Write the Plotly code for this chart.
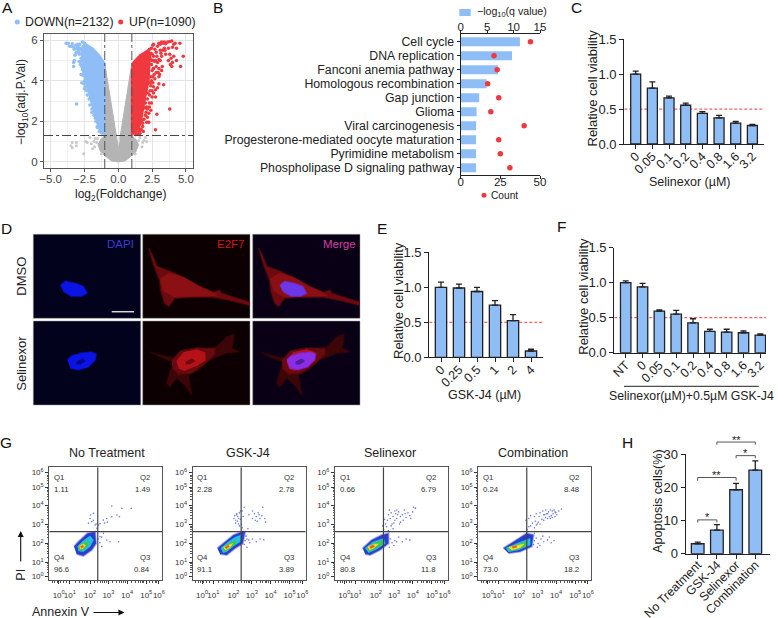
import plotly.graph_objects as go

W, H = 778, 618
FONT = "Liberation Sans"
BAR_BLUE = "#8fbdf6"
RED = "#f0393f"
INK = "#222222"

# ---------- Panel A : volcano ----------
GREY_REGION_X = [0, -0.1, -0.22, -0.38, -0.55, -0.75, -0.98, -1, -1.3, -1.5, -1.3, -0.9, -0.5, 0, 0.5, 0.9, 1.3, 1.5, 1.3, 1, 0.98, 0.75, 0.55, 0.38, 0.22, 0.1]
GREY_REGION_Y = [0.7, 1.1, 1.6, 2.2, 3.0, 3.8, 4.75, 1.3, 1.1, 0.85, 0.5, 0.25, 0.05, 0, 0.05, 0.25, 0.5, 0.85, 1.1, 1.3, 4.75, 3.8, 3.0, 2.2, 1.6, 1.1]
GREY_X = [-3.4, -3.5, -3.1, -3.1, -3.4, -2.55, -2.4, -2.3, -2.1, -2, -1.9, -1.8, -1.7, -1.6, -1.55, -1.75, 1.6, 1.8, 1.75, 1.9, 2.0, 2.1, 1.5, -1.25, 1.25]
GREY_Y = [0.7, 0.8, 0.95, 0.8, 0.95, 0.4, 1.0, 0.95, 1.2, 0.9, 0.65, 1.0, 1.15, 0.95, 1.15, 0.75, 1.2, 0.95, 0.75, 1.05, 1.2, 1.0, 1.05, 0.4, 0.4]
DOWN_REGION_X = [-1, -1, -1.4, -1.9, -2.4, -2.65, -2.7, -2.6, -2.6, -2.4, -2.2, -2.0, -1.8, -1.6, -1.4, -1.15]
DOWN_REGION_Y = [1.3, 4.85, 5.25, 5.6, 5.8, 5.7, 5.3, 4.9, 4.4, 3.9, 3.4, 3.0, 2.5, 2.0, 1.6, 1.35]
DOWN_X = [-3.85, -3.7, -3.6, -3.45, -3.4, -3.3, -3.25, -3.15, -3.05, -3.0, -2.95, -3.1, -3.2, -3.25, -3.3, -3.3, -2.85, -2.8, -2.75, -2.9, -3.1, -2.9, -2.7, -2.55, -2.8, -2.5, -2.4, -2.35, -2.2, -2.25, -2.05, -2.0, -1.9, -1.85, -1.7, -1.6, -1.6, -1.5, -1.85, -3.08, -1.75, -1.45, -1.4, -1.3, -1.25, -1.55, -1.65, -2.75, -2.7, -2.5, -1.2, -1.35, -2.7, -2.6, -2.75, -2.65, -2.6, -2.55, -2.45, -2.35, -2.3, -2.15, -2.1, -1.95, -1.8, -1.7, -1.55, -1.95, -2.85, -2.95, -2.65, -2.5]
DOWN_Y = [5.85, 5.85, 5.7, 5.7, 5.82, 5.65, 5.55, 5.75, 5.6, 5.8, 5.5, 5.4, 5.25, 5.0, 4.9, 4.7, 5.3, 5.6, 5.1, 5.4, 5.35, 4.95, 4.7, 4.6, 4.8, 4.0, 4.3, 4.15, 3.6, 3.95, 3.2, 3.4, 2.9, 3.1, 2.6, 2.4, 2.7, 2.2, 2.95, 2.85, 2.3, 1.9, 1.5, 1.6, 1.45, 1.75, 2.0, 4.3, 3.9, 3.6, 1.5, 1.8, 5.5, 5.2, 4.95, 4.55, 4.25, 3.85, 3.7, 3.5, 3.3, 3.1, 2.8, 2.6, 2.3, 2.15, 1.7, 2.45, 5.8, 5.65, 5.9, 5.85]
UP_REGION_X = [1, 1, 1.1, 1.6, 2.2, 2.35, 2.3, 2.25, 2.0, 1.85, 1.65, 1.3]
UP_REGION_Y = [1.3, 4.5, 4.9, 5.25, 5.5, 5.3, 4.7, 4.0, 3.2, 2.55, 1.9, 1.4]
UP_X = [2.6, 2.55, 2.45, 2.3, 2.4, 2.7, 2.8, 2.9, 3.0, 3.1, 3.2, 3.3, 3.4, 3.5, 3.65, 3.8, 3.95, 4.1, 4.2, 4.55, 4.3, 4.0, 3.7, 3.4, 3.1, 2.85, 2.6, 2.5, 2.7, 3.0, 3.2, 3.5, 3.8, 3.9, 3.7, 3.85, 4.0, 4.1, 4.3, 4.8, 4.6, 3.95, 3.25, 3.0, 2.8, 2.5, 2.4, 2.65, 2.8, 2.55, 2.4, 3.0, 3.35, 3.0, 2.9, 2.75, 2.5, 2.3, 2.15, 2.3, 2.1, 2.0, 2.5, 3.8, 2.4, 2.25, 2.85, 2.15, 2.0, 1.9, 1.75, 1.8, 1.85, 1.55, 2.75, 1.6, 1.3, 1.6, 1.9, 1.95, 2.35, 2.5, 2.6, 2.45, 2.6, 2.7, 2.55, 2.45, 2.35, 2.6, 2.75, 2.35, 2.2, 2.45, 2.6, 2.3, 2.15, 2.05, 1.95, 2.1, 2.25, 1.8, 1.7, 1.55, 1.45, 1.35, 1.25, 1.4, 1.65, 1.75, 2.9, 3.1, 3.2, 3.05, 2.95, 2.75, 2.6, 3.3, 3.15, 3.45]
UP_Y = [5.8, 5.75, 5.6, 5.55, 5.35, 5.55, 5.4, 5.7, 5.85, 5.8, 5.9, 5.85, 5.9, 5.82, 5.9, 5.93, 5.95, 5.8, 5.85, 5.85, 5.6, 5.65, 5.6, 5.6, 5.5, 5.2, 5.2, 5.0, 4.95, 5.05, 5.2, 5.3, 5.3, 5.1, 5.0, 4.8, 4.9, 5.2, 5.0, 5.2, 4.7, 4.7, 4.7, 4.6, 4.7, 4.5, 4.2, 4.3, 4.4, 3.9, 3.75, 4.2, 3.8, 3.85, 3.65, 3.55, 3.5, 3.3, 3.1, 2.9, 2.7, 2.9, 3.2, 2.6, 2.55, 2.4, 2.35, 2.2, 2.3, 2.1, 2.05, 1.75, 1.5, 1.65, 1.58, 1.4, 1.35, 2.3, 3.2, 3.5, 5.1, 5.3, 5.0, 4.8, 4.6, 4.1, 4.2, 4.0, 3.9, 3.7, 3.2, 3.5, 3.4, 2.9, 3.4, 2.7, 2.6, 2.45, 2.65, 1.95, 1.95, 1.9, 1.6, 1.5, 1.35, 1.55, 1.6, 1.8, 2.5, 2.7, 4.9, 5.0, 4.5, 4.3, 4.4, 5.0, 4.6, 5.5, 5.35, 5.5]
FC_CUT = 1
P_CUT = 1.3

# ---------- Panel B : enrichment ----------
PATHWAYS = ["Cell cycle", "DNA replication", "Fanconi anemia pathway", "Homologous recombination", "Gap junction", "Glioma", "Viral carcinogenesis", "Progesterone-mediated oocyte maturation", "Pyrimidine metabolism", "Phospholipase D signaling pathway"]
Q_VALUES = [11.2, 9.7, 7.05, 4.9, 3.5, 3.0, 2.9, 2.9, 2.9, 2.9]
COUNTS = [44, 21, 23, 17, 24, 19, 40, 24, 25, 31]

# ---------- Panels C, E, F : viability ----------
SEL_DOSES = ["0", "0.05", "0.1", "0.2", "0.4", "0.8", "1.6", "3.2"]
SEL_VIAB = [1.0, 0.8, 0.66, 0.555, 0.44, 0.375, 0.30, 0.265]
SEL_ERR = [0.045, 0.09, 0.025, 0.03, 0.025, 0.035, 0.025, 0.015]
GSK_DOSES = ["0", "0.25", "0.5", "1", "2", "4"]
GSK_VIAB = [1.0, 0.99, 0.94, 0.745, 0.525, 0.09]
GSK_ERR = [0.075, 0.055, 0.06, 0.065, 0.085, 0.025]
COMBO_DOSES = ["NT", "0", "0.05", "0.1", "0.2", "0.4", "0.8", "1.6", "3.2"]
COMBO_VIAB = [1.0, 0.94, 0.595, 0.55, 0.425, 0.305, 0.295, 0.285, 0.25]
COMBO_ERR = [0.025, 0.05, 0.015, 0.055, 0.06, 0.03, 0.04, 0.025, 0.02]
HALF = 0.5

# ---------- Panel H : apoptosis ----------
APO_GROUPS = ["No Treatment", "GSK-J4", "Selinexor", "Combination"]
APO_VALUES = [3.0, 7.1, 19.3, 25.2]
APO_ERR = [0.5, 1.7, 1.9, 2.8]
BRACKETS = [(0, 1, 10.2, 9.4, "*"), (0, 2, 23.0, 22.0, "**"), (2, 3, 29.6, 28.8, "*"), (1, 3, 33.7, 32.9, "**")]

# ---------- Panel D : micrographs (local image pixels) ----------
DMSO_CELL_X = [6, 11, 17, 18, 22, 26, 32, 47, 71, 87, 107, 107, 91, 79, 77, 71, 57, 41, 27, 14, 9]
DMSO_CELL_Y = [14, 31, 46, 56, 69, 72, 64, 63, 63, 66, 71, 68, 63, 59, 56, 58, 52, 43, 37, 32, 19]
DMSO_CORE_X = [18, 21, 31, 57, 74, 57, 41, 26]
DMSO_CORE_Y = [44, 56, 62, 61, 61, 53, 44, 39]
DMSO_NUC_X = [27, 32, 42, 50, 54, 48, 38, 30]
DMSO_NUC_Y = [51, 47, 49, 52, 59, 62, 62, 57]
SEL_CELL_X = [7, 17, 31, 41, 57, 74, 84, 91, 91, 89, 97, 84, 67, 56, 46, 49, 42, 34, 27, 24, 27, 31, 17]
SEL_CELL_Y = [31, 34, 37, 31, 28, 26, 16, 13, 21, 27, 31, 32, 39, 49, 54, 74, 64, 57, 66, 62, 51, 41, 36]
SEL_MID_X = [29, 38, 54, 72, 72, 60, 48, 36, 30]
SEL_MID_Y = [40, 30, 27, 28, 33, 44, 52, 53, 47]
SEL_CORE_X = [34, 41, 54, 62, 62, 54, 42, 36]
SEL_CORE_Y = [41, 32, 29, 32, 39, 44, 49, 47]
SEL_NUC_X = [34, 38, 48, 58, 63, 62, 55, 45, 37]
SEL_NUC_Y = [39, 35, 32, 31, 33, 39, 46, 49, 47]
SEL_HOLE_X = [43, 49, 52, 47, 43]
SEL_HOLE_Y = [41, 38, 40, 43, 43]

# ---------- Panel G : flow cytometry (display units) ----------
FLOW_TITLES = ["No Treatment", "GSK-J4", "Selinexor", "Combination"]
FLOW_Q1 = ["1.11", "2.28", "0.66", "0.24"]
FLOW_Q2 = ["1.49", "2.78", "6.79", "8.48"]
FLOW_Q3 = ["0.84", "3.89", "11.8", "18.2"]
FLOW_Q4 = ["96.6", "91.1", "80.8", "73.0"]
FLOW_X_TICKS = [0.5, 1.1, 2.18, 3.16, 4.16, 5.18, 5.86]
FLOW_Y_TICKS = [0.18, 0.95, 1.96, 3.0, 4.0, 4.96, 5.77]
FLOW_TEXT = ["10<sup>0</sup>", "10<sup>1</sup>", "10<sup>2</sup>", "10<sup>3</sup>", "10<sup>4</sup>", "10<sup>5</sup>", "10<sup>6</sup>"]
FLOW_GATE = 2.59
FLOW_COLORS = ["#2a3ccc", "#23c0e4", "#42c44c", "#f0e22e", "#ef5a22"]
NT_LEVELS = [
 ([1.32, 1.55, 2.04, 2.45, 2.5, 2.27, 1.82, 1.46], [1.79, 2.05, 2.5, 2.59, 1.96, 1.61, 1.29, 1.39]),
 ([1.5, 1.82, 2.18, 2.36, 2.18, 1.82, 1.55], [1.79, 2.11, 2.36, 2.14, 1.79, 1.52, 1.57]),
 ([1.55, 1.82, 2.09, 2.04, 1.82, 1.61], [1.79, 2.0, 2.05, 1.82, 1.61, 1.61]),
 ([1.61, 1.82, 1.93, 1.79, 1.64], [1.82, 1.93, 1.86, 1.68, 1.68]),
 ([1.66, 1.8, 1.84, 1.7], [1.79, 1.86, 1.78, 1.7]),
]
GSK_LEVELS = [
 ([1.32, 1.73, 2.18, 2.63, 2.8, 2.68, 2.27, 1.82, 1.46], [1.7, 2.05, 2.41, 2.59, 2.59, 1.96, 1.7, 1.34, 1.39]),
 ([1.5, 1.91, 2.27, 2.57, 2.54, 2.18, 1.82, 1.61], [1.7, 2.05, 2.29, 2.41, 2.05, 1.82, 1.52, 1.46]),
 ([1.59, 2.0, 2.32, 2.27, 1.91, 1.68], [1.7, 2.0, 2.14, 1.93, 1.64, 1.52]),
 ([1.64, 2.0, 2.14, 2.0, 1.73], [1.75, 1.93, 1.96, 1.75, 1.61]),
 ([1.71, 1.91, 1.96, 1.79], [1.75, 1.86, 1.79, 1.68]),
]
SEL_LEVELS = [
 ([1.48, 1.96, 2.5, 2.86, 2.86, 2.41, 1.88, 1.61], [1.7, 2.14, 2.41, 2.5, 1.96, 1.61, 1.34, 1.39]),
 ([1.61, 2.05, 2.59, 2.68, 2.23, 1.79], [1.7, 2.05, 2.23, 1.96, 1.66, 1.46]),
 ([1.7, 2.14, 2.55, 2.5, 2.05, 1.79], [1.73, 2.0, 2.11, 1.88, 1.64, 1.52]),
 ([1.75, 2.14, 2.32, 2.05, 1.84], [1.79, 1.93, 1.93, 1.7, 1.61]),
 ([1.84, 2.05, 2.11, 1.91], [1.79, 1.88, 1.8, 1.68]),
]
COMB_LEVELS = [
 ([1.34, 1.88, 2.59, 2.95, 2.86, 2.23, 1.61], [1.7, 2.05, 2.5, 2.41, 1.79, 1.52, 1.43]),
 ([1.48, 2.05, 2.77, 2.77, 2.14, 1.61], [1.7, 1.96, 2.23, 1.88, 1.61, 1.52]),
 ([1.55, 2.14, 2.59, 2.59, 2.05, 1.7], [1.73, 1.91, 2.05, 1.82, 1.64, 1.55]),
 ([1.61, 2.23, 2.45, 2.23, 1.79], [1.75, 1.88, 1.93, 1.73, 1.61]),
 ([1.79, 2.05, 2.05, 1.84], [1.79, 1.84, 1.75, 1.7]),
]
NT_U = [2.18, 2.27, 2.2, 2.36, 2.89, 3.07, 3.34, 3.61, 3.75, 3.34, 3.88, 4.38, 2.71, 2.63, 2.89, 3.07, 2.71, 2.8, 3.25, 3.7, 2.36, 2.45, 2.54, 2.09, 2.95, 3.1, 2.6, 2.7, 2.8, 2.5]
NT_V = [3.3, 3.13, 3.48, 3.57, 3.21, 3.3, 3.39, 3.48, 3.39, 3.96, 3.84, 3.84, 3.02, 2.95, 2.5, 2.14, 2.32, 1.79, 2.05, 2.05, 3.2, 2.95, 2.77, 3.04, 3.05, 3.1, 2.2, 2.0, 2.3, 3.0]
GSK_U = [2.2, 2.3, 2.35, 2.4, 2.45, 2.5, 2.3, 2.4, 2.25, 2.55, 2.6, 2.65, 2.5, 2.35, 2.45, 2.55, 2.7, 2.75, 2.65, 3.0, 3.2, 3.3, 3.4, 3.5, 3.6, 3.7, 3.75, 3.35, 3.45, 3.55, 3.85, 3.9, 3.2, 2.9, 2.85, 2.8, 3.0, 3.2, 3.4, 3.6, 3.8, 2.75, 2.9, 3.05, 2.95]
GSK_V = [3.3, 3.2, 3.5, 3.4, 3.3, 3.6, 3.05, 3.15, 3.45, 3.25, 3.0, 3.7, 2.9, 3.55, 3.0, 3.7, 3.4, 3.9, 2.8, 3.5, 3.3, 3.55, 3.4, 3.6, 3.3, 3.45, 3.9, 3.2, 3.15, 3.5, 3.3, 3.1, 3.7, 2.2, 2.35, 2.1, 2.15, 2.2, 2.05, 2.2, 2.15, 1.9, 1.75, 2.0, 2.75]
SEL_U = [2.6, 2.7, 2.8, 2.75, 2.85, 2.95, 3.0, 3.1, 3.05, 3.2, 3.3, 3.25, 3.4, 3.5, 3.45, 3.6, 3.7, 3.8, 3.9, 4.0, 4.15, 4.2, 4.3, 3.1, 3.2, 3.35, 3.5, 2.9, 3.0, 2.65, 2.55, 2.85, 3.15, 3.3, 3.65, 3.75, 4.05, 2.95, 3.05, 3.2, 3.4, 3.6, 3.8, 4.0, 3.15, 3.3, 2.9]
SEL_V = [2.7, 3.0, 3.2, 2.85, 3.5, 3.3, 3.6, 3.4, 3.0, 3.7, 3.3, 3.55, 3.65, 3.4, 3.0, 3.5, 3.75, 3.35, 3.6, 3.45, 3.65, 3.9, 3.85, 2.75, 3.2, 3.5, 3.1, 3.75, 2.9, 3.25, 2.9, 2.65, 3.05, 3.75, 3.2, 3.55, 3.3, 2.2, 2.0, 2.1, 2.3, 2.05, 2.2, 2.15, 1.85, 2.05, 1.75]
COMB_U = [2.6, 2.7, 2.8, 2.9, 3.0, 3.05, 3.1, 3.15, 3.2, 3.3, 3.4, 3.5, 3.6, 3.7, 3.8, 3.9, 4.0, 4.1, 4.2, 4.3, 4.45, 3.0, 3.1, 3.3, 3.45, 3.6, 3.75, 2.7, 2.55, 2.8, 3.55, 3.7, 3.85, 3.95, 4.05, 4.15, 3.85, 3.95, 4.1, 3.25, 3.5, 3.65, 2.9, 3.0, 2.95, 3.1, 3.2, 3.35, 3.5, 3.7, 3.9, 4.05, 3.15, 3.3, 3.0, 3.45, 3.8]
COMB_V = [2.7, 2.85, 2.9, 3.05, 2.8, 3.15, 2.95, 3.0, 3.1, 3.0, 3.25, 3.2, 3.35, 3.3, 3.4, 3.45, 3.55, 3.65, 3.5, 3.7, 3.8, 3.4, 3.55, 3.6, 3.7, 3.75, 3.65, 3.3, 3.2, 3.45, 3.5, 3.55, 3.75, 3.7, 3.75, 3.6, 3.3, 3.35, 3.4, 3.4, 3.5, 3.55, 2.4, 2.1, 1.9, 2.25, 1.95, 2.2, 2.05, 2.15, 2.0, 2.1, 1.75, 1.85, 2.5, 2.35, 2.3]
FLOW_LEVELS = [NT_LEVELS, GSK_LEVELS, SEL_LEVELS, COMB_LEVELS]
FLOW_SPARSE = [(NT_U, NT_V), (GSK_U, GSK_V), (SEL_U, SEL_V), (COMB_U, COMB_V)]

# ---------- helpers ----------
fig = go.Figure()
layout = {}
annotations = []
shapes = []
_n = [0]


def px(x):
    return x / W


def py(y):
    return 1 - y / H


def text(x, y, s, size=12, color=INK, anchor="center", angle=0, vanchor="middle"):
    annotations.append(dict(x=px(x), y=py(y), xref="paper", yref="paper", text=s, showarrow=False,
                            xanchor=anchor, yanchor=vanchor, textangle=angle,
                            font=dict(size=size, color=color, family=FONT)))


def axes(left, right, top, bottom, xr, yr, xkw=None, ykw=None):
    _n[0] += 1
    n = _n[0]
    base = dict(showgrid=False, zeroline=False, fixedrange=True, ticks="", showticklabels=False, showline=False, automargin=False)
    xa = dict(base, domain=[px(left), px(right)], range=xr, anchor=f"y{n}")
    ya = dict(base, domain=[py(bottom), py(top)], range=yr, anchor=f"x{n}")
    xa.update(xkw or {})
    ya.update(ykw or {})
    layout[f"xaxis{n}"] = xa
    layout[f"yaxis{n}"] = ya
    return f"x{n}", f"y{n}"


def tick_style(size=13, color=INK, width=1.3, tlen=4):
    return dict(showline=True, linecolor=color, linewidth=width, ticks="outside", ticklen=tlen, tickwidth=width,
                tickcolor=color, showticklabels=True, tickfont=dict(size=size, color=color, family=FONT))


def polygon(xa, ya, xs, ys, fill, edge=None, edge_w=0):
    fig.add_trace(go.Scatter(x=xs, y=ys, xaxis=xa, yaxis=ya, mode="lines", fill="toself", fillcolor=fill,
                             line=dict(color=edge or fill, width=edge_w), hoverinfo="skip", showlegend=False))


def bar_panel(left, right, top, bottom, cats, vals, errs, first_c, step, width, ymax, ticks, dash=None, angle=-45, tick_size=12.5, standoff=-5):
    xr = [(left - first_c) / step, (right - first_c) / step]
    ykw = dict(tick_style(), tickvals=ticks, ticktext=[f"{t:.1f}" if ymax < 2 else str(t) for t in ticks])
    xkw = dict(tick_style(size=tick_size), tickvals=list(range(len(cats))), ticktext=cats, tickangle=angle, ticklabelstandoff=standoff)
    xa, ya = axes(left, right, top, bottom, xr, [0, ymax], xkw, ykw)
    fig.add_trace(go.Bar(x=list(range(len(cats))), y=vals, xaxis=xa, yaxis=ya, width=width,
                         marker=dict(color=BAR_BLUE, line=dict(color=INK, width=1.3)),
                         error_y=dict(type="data", symmetric=False, array=errs, arrayminus=[0] * len(errs),
                                      color=INK, thickness=1.3, width=3), showlegend=False, hoverinfo="skip"))
    if dash is not None:
        shapes.append(dict(type="line", xref=xa, yref=ya, x0=xr[0], x1=xr[1], y0=dash, y1=dash, layer="below",
                           line=dict(color="#ec3b40", width=1, dash="3px,2px")))
    return xa, ya


# ---------- A ----------
GRID = "#e4e4e4"
xa, ya = axes(44, 193, 34, 168, [-5.49, 5.52], [-0.3, 6.3],
             dict(showline=True, mirror=True, linecolor="#555", linewidth=1.3, ticks="outside", ticklen=3, tickcolor="#555",
                  showticklabels=True, tickvals=[-5, -2.5, 0, 2.5, 5], ticktext=["\u22125.0", "\u22122.5", "0.0", "2.5", "5.0"],
                  ticklabelstandoff=-3,
                  tickfont=dict(size=11.5, color="#444", family=FONT), showgrid=True, gridcolor=GRID, gridwidth=1,
                  minor=dict(tickvals=[-3.75, -1.25, 1.25, 3.75], showgrid=True, gridcolor="#f1f1f1", gridwidth=0.7, ticks="")),
             dict(showline=True, mirror=True, linecolor="#555", linewidth=1.3, ticks="outside", ticklen=3, tickcolor="#555",
                  showticklabels=True, tickvals=[0, 2, 4, 6], tickfont=dict(size=11.5, color="#444", family=FONT),
                  showgrid=True, gridcolor=GRID, gridwidth=1,
                  minor=dict(tickvals=[1, 3, 5], showgrid=True, gridcolor="#f1f1f1", gridwidth=0.7, ticks="")))
polygon(xa, ya, GREY_REGION_X, GREY_REGION_Y, "#b4b4b4", "#b4b4b4", 1)
fig.add_trace(go.Scatter(x=GREY_X, y=GREY_Y, xaxis=xa, yaxis=ya, mode="markers", showlegend=False, hoverinfo="skip",
                         marker=dict(size=3, color="#c9c9c9")))
polygon(xa, ya, DOWN_REGION_X, DOWN_REGION_Y, "#8fbdf6", "#8fbdf6", 2)
fig.add_trace(go.Scatter(x=DOWN_X, y=DOWN_Y, xaxis=xa, yaxis=ya, mode="markers", showlegend=False, hoverinfo="skip",
                         marker=dict(size=3.5, color="#8fbdf6")))
polygon(xa, ya, UP_REGION_X, UP_REGION_Y, RED, RED, 2)
fig.add_trace(go.Scatter(x=UP_X, y=UP_Y, xaxis=xa, yaxis=ya, mode="markers", showlegend=False, hoverinfo="skip",
                         marker=dict(size=3.5, color=RED)))
for xval in (-FC_CUT, FC_CUT):
    fig.add_trace(go.Scatter(x=[xval, xval], y=[-0.3, 6.3], xaxis=xa, yaxis=ya, mode="lines", showlegend=False, hoverinfo="skip",
                             line=dict(color="#555", width=1, dash="dashdot")))
fig.add_trace(go.Scatter(x=[-5.49, 5.52], y=[P_CUT, P_CUT], xaxis=xa, yaxis=ya, mode="lines", showlegend=False, hoverinfo="skip",
                         line=dict(color="#444", width=1, dash="dashdot")))
text(22, 102, "\u2212log<sub>10</sub>(adj.P.Val)", 12, INK, angle=-90)
text(120, 194.5, "log<sub>2</sub>(Foldchange)", 12)
text(23, 22, "DOWN(n=2132)", 12.3, INK, anchor="left")
text(127, 22, "UP(n=1090)", 12.3, INK, anchor="left")
xl, yl = axes(0, W, 0, H, [0, W], [H, 0])
fig.add_trace(go.Scatter(x=[17.3, 120.7, 484], y=[22, 22, 195.3], xaxis=xl, yaxis=yl, mode="markers", showlegend=False, hoverinfo="skip",
                         marker=dict(size=5, color=["#8fbdf6", RED, RED])))

# ---------- B ----------
catpos = list(range(len(PATHWAYS)))
xa, ya = axes(460.7, 540, 33.7, 174.7, [0, 15], [9.5, -0.57],
             dict(tick_style(11.5, tlen=3), side="top", tickvals=[0, 5, 10, 15], ticklabelstandoff=-6),
             dict(tick_style(12.3, tlen=3), tickvals=catpos, ticktext=PATHWAYS))
fig.add_trace(go.Bar(y=catpos, x=Q_VALUES, orientation="h", xaxis=xa, yaxis=ya, width=0.64, showlegend=False, hoverinfo="skip",
                     marker=dict(color=BAR_BLUE, line=dict(width=0))))
nb = _n[0] + 1
_n[0] = nb
layout[f"xaxis{nb}"] = dict(tick_style(11.5, tlen=3), domain=[px(460.7), px(540)], range=[0, 50], side="bottom", anchor=ya, tickvals=[0, 25, 50],
                            showgrid=False, zeroline=False, fixedrange=True, overlaying=xa, automargin=False, ticklabelstandoff=-7)
fig.add_trace(go.Scatter(x=COUNTS, y=catpos, xaxis=f"x{nb}", yaxis=ya, mode="markers", showlegend=False, hoverinfo="skip",
                         marker=dict(size=5.5, color=RED)))
shapes.append(dict(type="rect", xref="paper", yref="paper", x0=px(459.3), x1=px(470.7), y0=py(16), y1=py(9),
                   fillcolor=BAR_BLUE, line=dict(width=0)))
text(475.3, 12.3, "\u2212log<sub>10</sub>(q value)", 10.6, anchor="left")
text(489.3, 195.3, "Count", 10.2, anchor="left")

# ---------- C / E / F ----------
bar_panel(624.3, 764, 39.3, 144, SEL_DOSES, SEL_VIAB, SEL_ERR, 635.7, 16.67, 0.6, 1.5, [0, 0.5, 1.0, 1.5], dash=HALF)
text(592.5, 88, "Relative cell viability", 13, angle=-90)
text(690.3, 182, "Selinexor (\u00b5M)", 12.5)

bar_panel(429.3, 542.7, 252.3, 357.3, GSK_DOSES, GSK_VIAB, GSK_ERR, 441, 18, 0.63, 1.5, [0, 0.5, 1.0, 1.5], dash=HALF)
text(399, 301, "Relative cell viability", 13, angle=-90)
text(484.3, 395, "GSK-J4 (\u00b5M)", 12.5)

bar_panel(614.3, 766, 247.7, 352.7, COMBO_DOSES, COMBO_VIAB, COMBO_ERR, 625.7, 16.83, 0.62, 1.5, [0, 0.5, 1.0, 1.5], dash=HALF)
text(584, 296.7, "Relative cell viability", 13, angle=-90)
shapes.append(dict(type="line", xref="paper", yref="paper", x0=px(624), x1=px(758.7), y0=py(386.3), y1=py(386.3),
                   line=dict(color=INK, width=1)))
text(691.5, 396, "Selinexor(\u00b5M)+0.5\u00b5M GSK-J4", 12.3)

# ---------- H ----------
H_BOTTOM, H_TOP, H_MAX = 553.7, 454.3, 30
xa, ya = bar_panel(685.7, 770, H_TOP, H_BOTTOM, APO_GROUPS, APO_VALUES, APO_ERR, 697.7, 19.2, 0.66, H_MAX, [0, 10, 20, 30], tick_size=12.3, standoff=-6)


def h_py(v):
    return H_BOTTOM - v * (H_BOTTOM - H_TOP) / H_MAX


for a, b, top, end, stars in BRACKETS:
    for x0, x1, y0, y1 in ((a, b, top, top), (a, a, top, end), (b, b, top, end)):
        shapes.append(dict(type="line", xref=xa, yref="paper", x0=x0, x1=x1, y0=py(h_py(y0)), y1=py(h_py(y1)),
                           line=dict(color="#555", width=1)))
    text(697.7 + 19.2 * (a + b) / 2, h_py(top) - 2.5, stars, 11)
text(658, 501, "Apoptosis cells(%)", 12.6, angle=-90)

# ---------- D ----------
IMG_COLS = [(33.3, 140.7), (142.7, 250), (252.7, 360)]
IMG_ROWS = [(234.3, 318.3), (321, 405)]
BG = ["#02021c", "#0c0002", "#0a0016"]
for c, (l, r) in enumerate(IMG_COLS):
    for rw, (t, b) in enumerate(IMG_ROWS):
        shapes.append(dict(type="rect", xref="paper", yref="paper", x0=px(l), x1=px(r), y0=py(b), y1=py(t), layer="below",
                           fillcolor=BG[c], line=dict(color="#9a9a9a", width=0.5)))
        xa, ya = axes(l, r, t, b, [0, r - l], [b - t, 0])
        if rw == 0:
            cell, core, nuc = (DMSO_CELL_X, DMSO_CELL_Y), (DMSO_CORE_X, DMSO_CORE_Y), (DMSO_NUC_X, DMSO_NUC_Y)
            cell_col, core_col, soft = "#6e0a0e", "#8a1014", "rgba(110,10,14,0.4)"
        else:
            cell, core, nuc = (SEL_CELL_X, SEL_CELL_Y), (SEL_CORE_X, SEL_CORE_Y), (SEL_NUC_X, SEL_NUC_Y)
            cell_col, core_col, soft = "#3c0608", "#b41218", "rgba(60,6,8,0.35)"
        if c >= 1:
            polygon(xa, ya, cell[0], cell[1], cell_col, soft, 2)
            if rw == 1:
                polygon(xa, ya, SEL_MID_X, SEL_MID_Y, "#680a0e", "rgba(104,10,14,0.5)", 2)
            polygon(xa, ya, core[0], core[1], core_col, core_col, 1.5)
        if c == 0:
            polygon(xa, ya, nuc[0], nuc[1], "#0a14e4", "rgba(10,20,228,0.5)", 1.5)
            if rw == 1:
                polygon(xa, ya, SEL_HOLE_X, SEL_HOLE_Y, "#06088c", "#06088c", 1)
        if c == 2:
            polygon(xa, ya, nuc[0], nuc[1], "#6a38e6" if rw == 0 else "#8c2ce6", "rgba(120,40,220,0.5)", 1.5)
            if rw == 1:
                polygon(xa, ya, SEL_HOLE_X, SEL_HOLE_Y, "#50209c", "#50209c", 1)
        if c == 1 and rw == 1:
            polygon(xa, ya, SEL_HOLE_X, SEL_HOLE_Y, "#6e0a0e", "#6e0a0e", 1)
shapes.append(dict(type="line", xref="paper", yref="paper", x0=px(111.7), x1=px(134), y0=py(311.7), y1=py(311.7),
                   line=dict(color="#d8d8d8", width=1.5)))
text(120.5, 244, "DAPI", 11.5, "#3c3cd4")
text(230.7, 244, "E2F7", 11.5, "#d21616")
text(339.5, 244, "Merge", 11.5, "#d63fa4")
text(20.7, 276, "DMSO", 13, angle=-90)
text(20.7, 363, "Selinexor", 13, angle=-90)

# ---------- G ----------
FLOW_LEFT = [49.3, 192.7, 335, 478.3]
FLOW_W = 113
FLOW_TOP, FLOW_BOTTOM = 467.3, 580
FLOW_CENTER = [107.3, 247.7, 390.3, 532.7]
MINOR = [0.15, 0.3, 0.42, 0.6, 0.75, 0.9, 1.4, 1.6, 1.75, 1.87, 1.97, 2.05, 2.4, 2.6, 2.75, 2.87, 2.97, 3.05, 3.4, 3.6, 3.75, 3.87, 3.97, 4.05, 4.4, 4.6, 4.75, 4.87, 4.97, 5.05, 5.35, 5.5, 5.65, 5.75]
MINOR_Y = [0.4, 0.55, 0.68, 0.8, 0.88, 1.2, 1.4, 1.55, 1.68, 1.8, 1.88, 2.26, 2.44, 2.58, 2.7, 2.8, 2.88, 3.3, 3.48, 3.6, 3.72, 3.82, 3.9, 4.3, 4.48, 4.6, 4.72, 4.82, 4.9, 5.18, 5.32, 5.44, 5.54, 5.62]
for i, l in enumerate(FLOW_LEFT):
    flow_tick = dict(showline=True, linecolor="#555", linewidth=1, mirror=True, ticks="outside", ticklen=3, tickwidth=1, tickcolor="#333",
                     showticklabels=True, tickangle=0, tickfont=dict(size=8, color="#333", family=FONT), ticktext=FLOW_TEXT)
    xa, ya = axes(l, l + FLOW_W, FLOW_TOP, FLOW_BOTTOM, [0, 6.04], [0, 6.04],
                 dict(flow_tick, tickvals=FLOW_X_TICKS, ticklabelstandoff=4, minor=dict(tickvals=MINOR, ticks="outside", ticklen=1.5, tickwidth=0.7, tickcolor="#555")),
                 dict(flow_tick, tickvals=FLOW_Y_TICKS, minor=dict(tickvals=MINOR_Y, ticks="outside", ticklen=1.5, tickwidth=0.7, tickcolor="#555")))
    su, sv = FLOW_SPARSE[i]
    fig.add_trace(go.Scatter(x=su, y=sv, xaxis=xa, yaxis=ya, mode="markers", showlegend=False, hoverinfo="skip",
                             marker=dict(size=1.6, color="#3c4cd2", opacity=0.75)))
    polygon(xa, ya, FLOW_LEVELS[i][0][0], FLOW_LEVELS[i][0][1], FLOW_COLORS[0], "rgba(60,76,210,0.45)", 2)
    for lev, col in zip(FLOW_LEVELS[i][1:], FLOW_COLORS[1:]):
        polygon(xa, ya, lev[0], lev[1], col, col, 0.5)
    for gate_x, gate_y in (([FLOW_GATE, FLOW_GATE], [0, 6.04]), ([0, 6.04], [FLOW_GATE, FLOW_GATE])):
        fig.add_trace(go.Scatter(x=gate_x, y=gate_y, xaxis=xa, yaxis=ya, mode="lines", showlegend=False, hoverinfo="skip",
                                 line=dict(color="#444", width=1.2)))
    r = l + FLOW_W - 10
    text(FLOW_CENTER[i], 452.7, FLOW_TITLES[i], 12.5)
    text(l + 2.5, 477.7, "Q1", 7.8, "#333", anchor="left")
    text(l + 2.5, 489.3, FLOW_Q1[i], 7.8, "#333", anchor="left")
    text(r, 477.7, "Q2", 7.8, "#333", anchor="right")
    text(r, 489.3, FLOW_Q2[i], 7.8, "#333", anchor="right")
    text(l + 2.5, 557.7, "Q4", 7.8, "#333", anchor="left")
    text(l + 2.5, 569, FLOW_Q4[i], 7.8, "#333", anchor="left")
    text(r, 557.7, "Q3", 7.8, "#333", anchor="right")
    text(r, 569, FLOW_Q3[i], 7.8, "#333", anchor="right")
text(20.7, 575, "PI", 12.5, angle=-90)
text(30, 612, "Annexin V", 12.5, anchor="left")
for (x0, y0, x1, y1) in ((20.7, 563, 20.7, 531), (92, 612.5, 124.5, 612.5)):
    annotations.append(dict(x=px(x1), y=py(y1), ax=x0 - x1, ay=y0 - y1, xref="paper", yref="paper", axref="pixel", ayref="pixel",
                            text="", showarrow=True, arrowhead=2, arrowsize=1.1, arrowwidth=1.1, arrowcolor="#111"))

# ---------- panel letters ----------
for s, x, y in (("A", 7, 8), ("B", 218, 7), ("C", 576, 7), ("D", 6, 228), ("E", 382, 228), ("F", 561, 226), ("G", 6, 442), ("H", 627, 442)):
    text(x, y, s, 15.5, "#111")

fig.update_layout(width=W, height=H, margin=dict(l=0, r=0, t=0, b=0, autoexpand=False), paper_bgcolor="white", plot_bgcolor="rgba(0,0,0,0)",
                  showlegend=False, annotations=annotations, shapes=shapes, barmode="overlay", **layout)
fig.write_html("out.html", config=dict(displayModeBar=False), post_script="document.body.style.margin='0';")
